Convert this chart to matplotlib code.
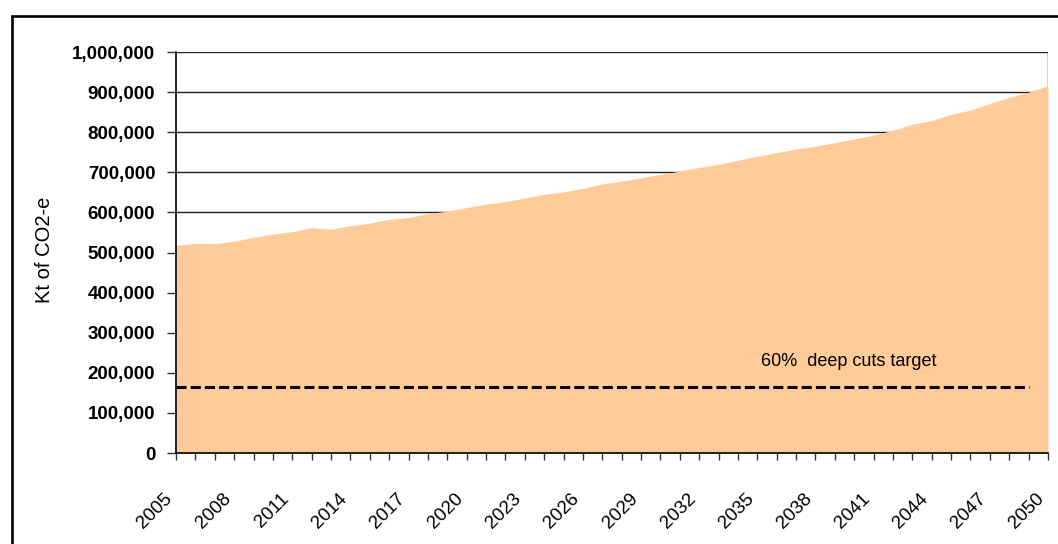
import matplotlib
matplotlib.use("Agg")
import matplotlib.pyplot as plt
import matplotlib.transforms as mtransforms
from matplotlib.patches import Rectangle
from matplotlib.ticker import FuncFormatter

plt.rcParams['font.family'] = ['Liberation Sans', 'DejaVu Sans']

years = list(range(2005, 2051))
emissions = [518000, 523000, 522000, 528000, 538000, 546000, 552000, 562000, 558000, 567000,
             573000, 583000, 587000, 597000, 603000, 612000, 621000, 627000, 636000, 645000,
             651000, 660000, 671000, 678000, 686000, 695000, 703000, 712000, 720000, 730000,
             740000, 749000, 758000, 765000, 774000, 783000, 793000, 805000, 820000, 829000,
             845000, 855000, 872000, 887000, 900000, 916000]
target_years = list(range(2005, 2050))
target = [165000] * len(target_years)
y_ticks = list(range(0, 1000001, 100000))
x_label_years = years[::3]
y_label = "Kt of CO2-e"
target_text = "60%  deep cuts target"

W, H = 1058, 544
fig = plt.figure(figsize=(W / 100, H / 100), dpi=100)
L, R, T, B = 176, 1048, 52, 453
ax = fig.add_axes([L / W, 1 - B / H, (R - L) / W, (B - T) / H])

ax.fill_between(years, emissions, 0, color='#FFCC99', linewidth=0, zorder=2)
ax.plot(target_years, target, color='black', linewidth=2.2, dashes=(3.3, 1.35),
        dash_capstyle='butt', zorder=4)
ax.text(2035.2, 227000, target_text, fontsize=13, ha='left', va='center', zorder=5)

ax.set_xlim(2005, 2050)
ax.set_ylim(0, 1000000)
ax.set_yticks(y_ticks)
ax.yaxis.set_major_formatter(FuncFormatter(lambda v, p: f"{int(v):,}"))
for yv in y_ticks[1:]:
    ax.axhline(yv, color='#222222', linewidth=1.0, zorder=1)
ax.axvline(2050, color='#222222', linewidth=1.0, zorder=1)

ax.set_xticks(years)
ax.set_xticklabels([str(y) if y in x_label_years else '' for y in years],
                   rotation=45, ha='right', va='top', fontsize=13.5)
offset = mtransforms.ScaledTranslation(-11 / 100, 0, fig.dpi_scale_trans)
for lbl in ax.get_xticklabels():
    lbl.set_transform(lbl.get_transform() + offset)

for s in ['top', 'right']:
    ax.spines[s].set_visible(False)
for s in ['left', 'bottom']:
    ax.spines[s].set_color('black')
    ax.spines[s].set_linewidth(1.2)
    ax.spines[s].set_zorder(6)

ax.tick_params(axis='y', direction='out', length=6.5, width=1, color='#333333',
               pad=8.4, labelsize=13.5)
ax.tick_params(axis='x', direction='out', length=5, width=1, color='#333333',
               pad=21.5)
for lbl in ax.get_yticklabels():
    lbl.set_fontweight('bold')

fig.text(44 / W, 1 - 250 / H, y_label, rotation=90, ha='center', va='center', fontsize=14.5)

frame = Rectangle((11.5 / W, -0.1), 1.2, (H - 15.5) / H + 0.1, transform=fig.transFigure,
                  fill=False, edgecolor='black', linewidth=1.9, clip_on=False)
fig.patches.append(frame)

fig.savefig("out.png", dpi=100)
